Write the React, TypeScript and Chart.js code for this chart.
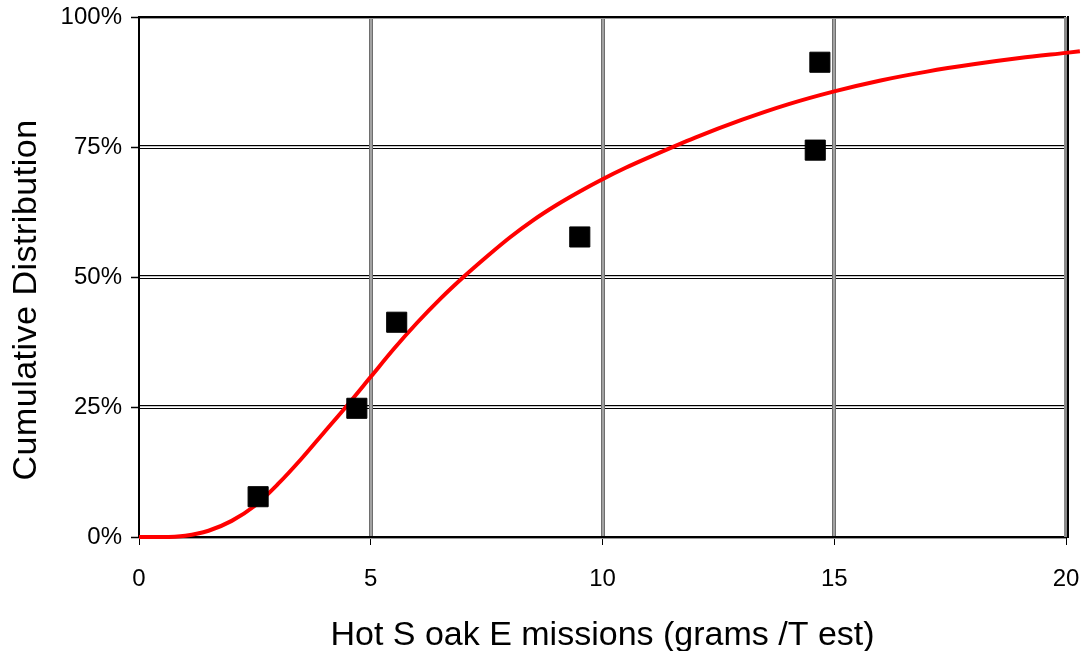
import React, { useEffect, useRef } from "react";
import { Chart, registerables } from "chart.js";

Chart.register(...registerables);

// Fitted cumulative distribution curve
const curveX = [0, 0.5, 1.0, 1.5, 2.0, 2.5, 3.0, 3.5, 4.0, 4.5, 5.0, 5.5, 6.0, 6.5, 7.0, 7.5, 8.0, 8.5, 9.0, 9.5, 10, 10.5, 11, 12, 13, 14, 15, 16, 17, 18, 19, 20, 20.3];
const curveY = [0, 0, 0.25, 1.2, 3.1, 6.0, 10.2, 15.0, 20.2, 25.4, 30.8, 36.2, 41.2, 45.8, 50.0, 53.9, 57.6, 60.9, 63.8, 66.4, 68.8, 71.0, 73.0, 76.8, 80.2, 83.2, 85.7, 87.8, 89.5, 90.9, 92.1, 93.1, 93.4];

// Observed points
const obsX = [2.57, 4.7, 5.56, 9.51, 14.59, 14.69];
const obsY = [7.75, 24.75, 41.3, 57.7, 74.4, 91.3];

const xTicks = [0, 5, 10, 15, 20];
const yTicks = [0, 25, 50, 75, 100];

const xTitle = "Hot S oak E missions (grams /T est)";
const yTitle = "Cumulative Distribution";

const FONT = '"Liberation Sans", Arial, sans-serif';

const gridPlugin = {
  id: "excelGrid",
  beforeDatasetsDraw(chart: any) {
    const { ctx, chartArea, scales } = chart;
    const { left, right, top, bottom } = chartArea;
    const w = right - left;
    const h = bottom - top;
    const x = scales.x;
    const y = scales.y;
    ctx.save();
    // horizontal grid lines (double black lines)
    yTicks.slice(1, -1).forEach((v) => {
      const py = Math.round(y.getPixelForValue(v));
      ctx.fillStyle = "#000";
      ctx.fillRect(left, py - 2, w, 1);
      ctx.fillRect(left, py + 1, w, 1);
      ctx.fillStyle = "#c8c8c8";
      ctx.fillRect(left, py - 1, w, 1);
    });
    // vertical grid lines (grey band)
    xTicks.slice(1, -1).forEach((v) => {
      const px = Math.round(x.getPixelForValue(v));
      ctx.fillStyle = "#6e6e6e";
      ctx.fillRect(px - 2, top, 4, h);
      ctx.fillStyle = "#a2a2a2";
      ctx.fillRect(px - 1, top, 2, h);
    });
    // borders
    const pyTop = Math.round(y.getPixelForValue(100));
    const pyBot = Math.round(y.getPixelForValue(0));
    const pxL = Math.round(x.getPixelForValue(0));
    const pxR = Math.round(x.getPixelForValue(20));
    ctx.fillStyle = "#000";
    ctx.fillRect(left, pyTop - 1, w, 2);
    ctx.fillStyle = "#9a9a9a";
    ctx.fillRect(left, pyTop + 1, w, 1);
    ctx.fillStyle = "#000";
    ctx.fillRect(left, pyBot - 1, w, 2);
    ctx.fillStyle = "#9a9a9a";
    ctx.fillRect(left, pyBot + 1, w, 1);
    ctx.fillStyle = "#8a8a8a";
    ctx.fillRect(pxR - 2, top, 3, h);
    ctx.fillStyle = "#000";
    ctx.fillRect(pxR + 1, top - 1, 2, h + 2);
    ctx.fillRect(pxL - 1, top - 1, 2, h + 2);
    ctx.restore();
  },
  afterDraw(chart: any) {
    const { ctx } = chart;
    ctx.save();
    ctx.translate(27, 300);
    ctx.rotate(-Math.PI / 2);
    ctx.font = `34px ${FONT}`;
    try {
      (ctx as any).letterSpacing = "0.5px";
    } catch (e) {}
    ctx.fillStyle = "#000";
    ctx.textAlign = "center";
    ctx.textBaseline = "middle";
    ctx.fillText(yTitle, 0, 0);
    ctx.restore();
  },
};

export default function App() {
  const ref = useRef<HTMLCanvasElement | null>(null);

  useEffect(() => {
    if (!ref.current) return;
    const chart = new Chart(ref.current, {
      type: "scatter",
      data: {
        datasets: [
          {
            type: "scatter",
            label: "Observed",
            data: obsX.map((v, i) => ({ x: v, y: obsY[i] })),
            pointStyle: "rect",
            pointRadius: 14.2,
            pointBackgroundColor: "#000",
            pointBorderColor: "#000",
            pointBorderWidth: 1,
            order: 0,
          },
          {
            type: "line",
            label: "Fitted",
            data: curveX.map((v, i) => ({ x: v, y: curveY[i] })),
            borderColor: "#ff0000",
            borderWidth: 4,
            pointRadius: 0,
            fill: false,
            cubicInterpolationMode: "monotone",
            clip: false,
            order: 1,
          } as any,
        ],
      },
      options: {
        responsive: false,
        animation: false,
        layout: { padding: { top: 17, right: 19, left: 0, bottom: 0 } },
        plugins: {
          legend: { display: false },
          tooltip: { enabled: false },
        },
        scales: {
          x: {
            type: "linear",
            afterDataLimits: (s: any) => {
              s.min = 0;
              s.max = 20;
            },
            afterBuildTicks: (s: any) => {
              s.min = 0;
              s.max = 20;
              s.ticks = xTicks.map((v) => ({ value: v }));
            },
            afterFit: (s: any) => {
              s.height = 114;
              s.paddingLeft = 0;
              s.paddingRight = 0;
            },
            grid: { drawOnChartArea: false, drawTicks: true, tickLength: 8, tickColor: "#000", tickWidth: 1 },
            border: { display: false },
            ticks: {
              color: "#000",
              padding: 20,
              font: { family: FONT, size: 24 },
              maxRotation: 0,
            },
            title: {
              display: true,
              text: xTitle,
              color: "#000",
              font: { family: FONT, size: 34, lineHeight: 1 },
              padding: { top: 0, bottom: -2 },
            },
          },
          y: {
            type: "linear",
            min: 0,
            max: 100,
            afterBuildTicks: (s: any) => {
              s.ticks = yTicks.map((v) => ({ value: v }));
            },
            afterFit: (s: any) => {
              s.width = 139;
              s.paddingTop = 0;
              s.paddingBottom = 0;
            },
            grid: { drawOnChartArea: false, drawTicks: true, tickLength: 8, tickColor: "#000", tickWidth: 1.5 },
            border: { display: false },
            ticks: {
              color: "#000",
              padding: 9,
              font: { family: FONT, size: 24 },
              callback: (v: any) => `${v}%`,
            },
          },
        },
      },
      plugins: [gridPlugin],
    });
    return () => chart.destroy();
  }, []);

  return (
    <div style={{ position: "fixed", left: 0, top: 0, width: 1085, height: 651, background: "#fff" }}>
      <canvas ref={ref} width={1085} height={651} style={{ display: "block" }} />
    </div>
  );
}
